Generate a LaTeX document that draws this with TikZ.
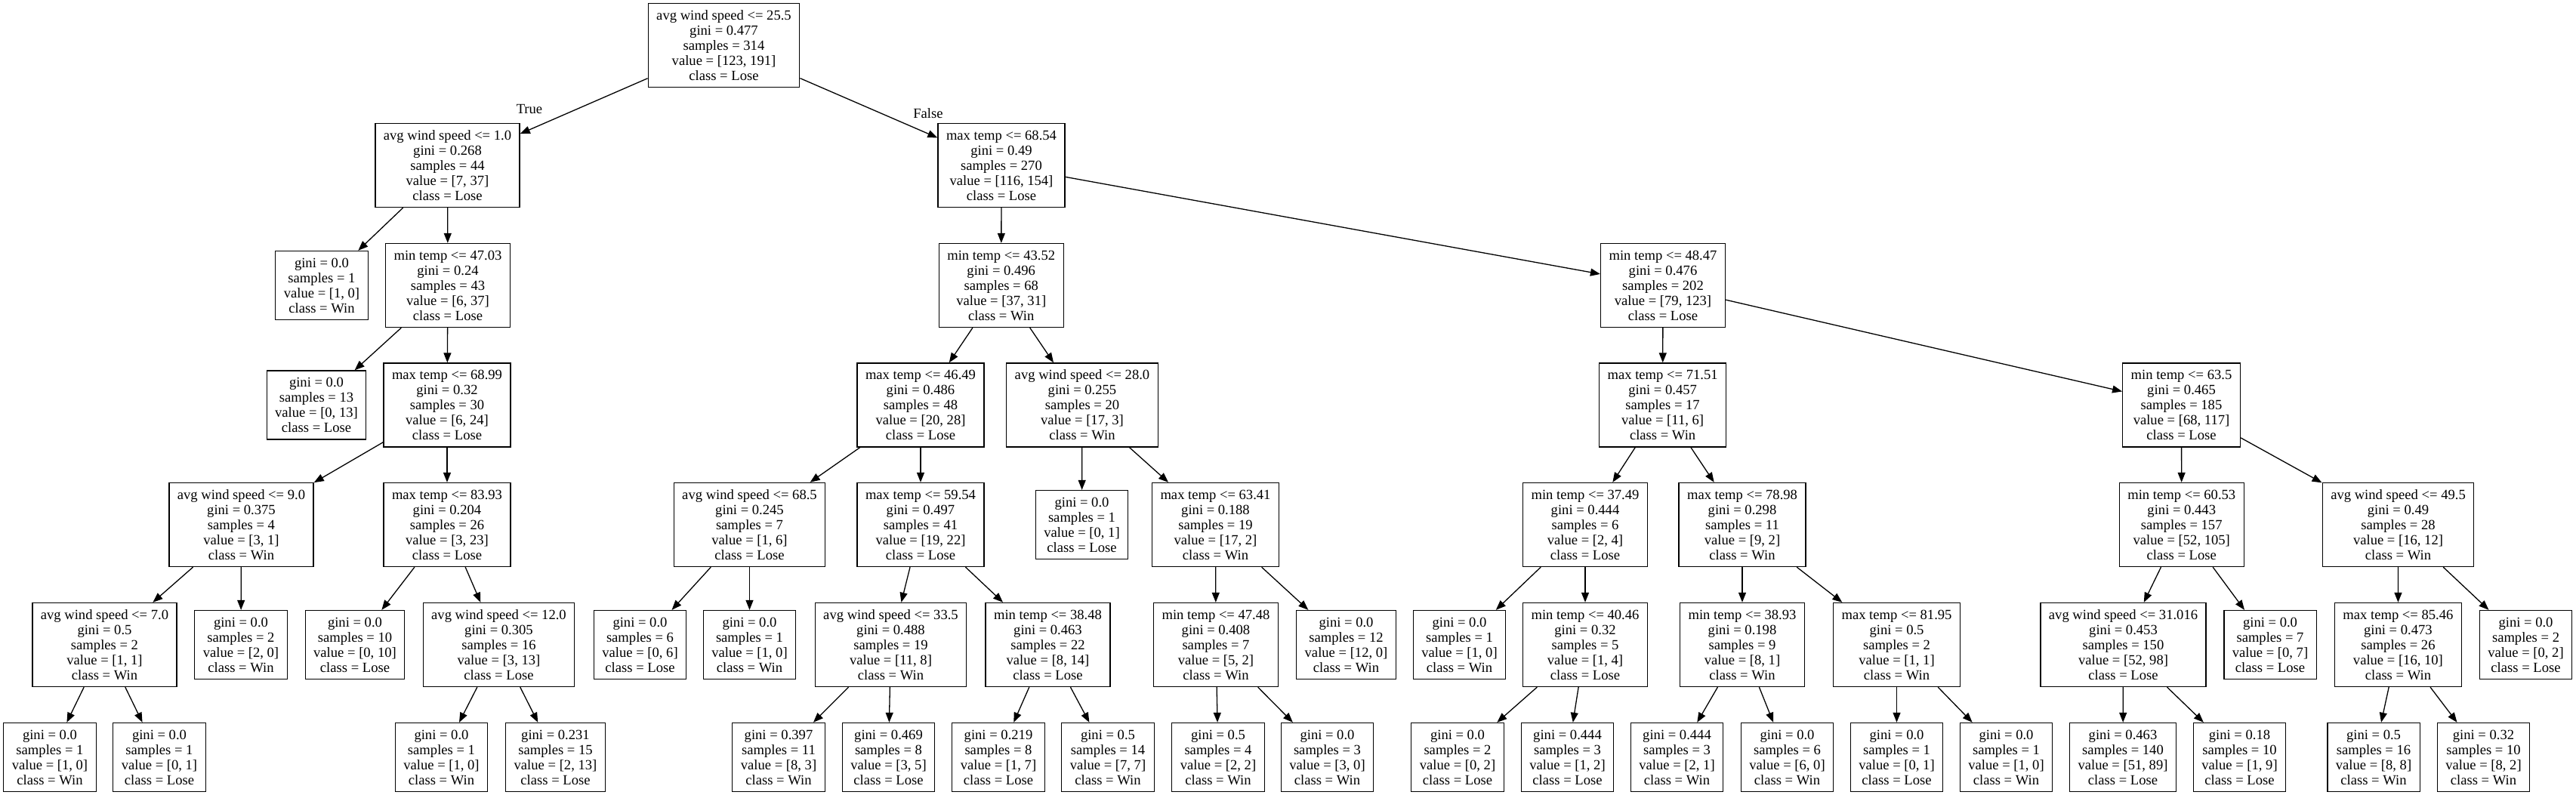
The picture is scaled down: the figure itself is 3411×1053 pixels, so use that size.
\documentclass[tikz,border=0pt]{standalone}
\usepackage{fontspec}
\setmainfont{Liberation Serif}
\usetikzlibrary{arrows.meta}
\newcommand\treefont{\fontsize{9.3}{10}\selectfont}
\newcommand\leaftxt[4]{gini = #1\\samples = #2\\value = [#3]\\class = #4}
\newcommand\splittxt[5]{#1\\gini = #2\\samples = #3\\value = [#4]\\class = #5}
\tikzset{
  x=0.5pt, y=-0.5pt,
  big/.style={draw, line width=0.65pt, align=center, font=\treefont, inner xsep=5.5pt, inner ysep=2pt, minimum height=55.5pt},
  lf/.style={draw, line width=0.65pt, align=center, font=\treefont, inner xsep=5.5pt, inner ysep=2pt, minimum height=45.5pt},
  arr/.style={-{Triangle[length=6.5pt,width=5pt]}, line width=0.65pt},
  lbl/.style={font=\treefont, inner sep=0pt}
}
\begin{document}
\begin{tikzpicture}
\useasboundingbox (0,0) rectangle (3411,1053);
% level 0
\node[big] (r) at (958.5,60) {\splittxt{avg wind speed <= 25.5}{0.477}{314}{123, 191}{Lose}};
% level 1
\node[big] (a) at (592.5,219) {\splittxt{avg wind speed <= 1.0}{0.268}{44}{7, 37}{Lose}};
\node[big] (b) at (1326,219) {\splittxt{max temp <= 68.54}{0.49}{270}{116, 154}{Lose}};
% level 2
\node[lf] (a1) at (426,378) {\leaftxt{0.0}{1}{1, 0}{Win}};
\node[big] (a2) at (593,378) {\splittxt{min temp <= 47.03}{0.24}{43}{6, 37}{Lose}};
\node[big] (c) at (1325.75,378) {\splittxt{min temp <= 43.52}{0.496}{68}{37, 31}{Win}};
\node[big] (d) at (2202,378) {\splittxt{min temp <= 48.47}{0.476}{202}{79, 123}{Lose}};
% level 3
\node[lf] (a2l) at (419,536.5) {\leaftxt{0.0}{13}{0, 13}{Lose}};
\node[big] (a3) at (592,536.5) {\splittxt{max temp <= 68.99}{0.32}{30}{6, 24}{Lose}};
\node[big] (c1) at (1219,536.5) {\splittxt{max temp <= 46.49}{0.486}{48}{20, 28}{Lose}};
\node[big] (c2) at (1433,536.5) {\splittxt{avg wind speed <= 28.0}{0.255}{20}{17, 3}{Win}};
\node[big] (d1) at (2201.6,536.5) {\splittxt{max temp <= 71.51}{0.457}{17}{11, 6}{Win}};
\node[big] (d2) at (2888.5,536.5) {\splittxt{min temp <= 63.5}{0.465}{185}{68, 117}{Lose}};
% level 4
\node[big] (a4) at (319.5,695) {\splittxt{avg wind speed <= 9.0}{0.375}{4}{3, 1}{Win}};
\node[big] (a5) at (592,695) {\splittxt{max temp <= 83.93}{0.204}{26}{3, 23}{Lose}};
\node[big] (c3) at (992.5,695) {\splittxt{avg wind speed <= 68.5}{0.245}{7}{1, 6}{Lose}};
\node[big] (c4) at (1219,695) {\splittxt{max temp <= 59.54}{0.497}{41}{19, 22}{Lose}};
\node[lf] (c2l) at (1432.5,695) {\leaftxt{0.0}{1}{0, 1}{Lose}};
\node[big] (c7) at (1609.5,695) {\splittxt{max temp <= 63.41}{0.188}{19}{17, 2}{Win}};
\node[big] (d3) at (2099,695) {\splittxt{min temp <= 37.49}{0.444}{6}{2, 4}{Lose}};
\node[big] (d4) at (2307,695) {\splittxt{max temp <= 78.98}{0.298}{11}{9, 2}{Win}};
\node[big] (d8) at (2888.75,695) {\splittxt{min temp <= 60.53}{0.443}{157}{52, 105}{Lose}};
\node[big] (d9) at (3175.5,695) {\splittxt{avg wind speed <= 49.5}{0.49}{28}{16, 12}{Win}};
% level 5
\node[big] (a6) at (138.5,854) {\splittxt{avg wind speed <= 7.0}{0.5}{2}{1, 1}{Win}};
\node[lf] (a4l) at (319,854) {\leaftxt{0.0}{2}{2, 0}{Win}};
\node[lf] (a5l) at (470,854) {\leaftxt{0.0}{10}{0, 10}{Lose}};
\node[big] (a7) at (660.5,854) {\splittxt{avg wind speed <= 12.0}{0.305}{16}{3, 13}{Lose}};
\node[lf] (c3l) at (847.5,854) {\leaftxt{0.0}{6}{0, 6}{Lose}};
\node[lf] (c3r) at (992.5,854) {\leaftxt{0.0}{1}{1, 0}{Win}};
\node[big] (c5) at (1179.5,854) {\splittxt{avg wind speed <= 33.5}{0.488}{19}{11, 8}{Win}};
\node[big] (c6) at (1387.5,854) {\splittxt{min temp <= 38.48}{0.463}{22}{8, 14}{Lose}};
\node[big] (c8) at (1610,854) {\splittxt{min temp <= 47.48}{0.408}{7}{5, 2}{Win}};
\node[lf] (c7r) at (1782.5,854) {\leaftxt{0.0}{12}{12, 0}{Win}};
\node[lf] (d3l) at (1932.5,854) {\leaftxt{0.0}{1}{1, 0}{Win}};
\node[big] (d5) at (2099,854) {\splittxt{min temp <= 40.46}{0.32}{5}{1, 4}{Lose}};
\node[big] (d6) at (2307,854) {\splittxt{min temp <= 38.93}{0.198}{9}{8, 1}{Win}};
\node[big] (d7) at (2511.5,854) {\splittxt{max temp <= 81.95}{0.5}{2}{1, 1}{Win}};
\node[big] (d10) at (2811.5,854) {\splittxt{avg wind speed <= 31.016}{0.453}{150}{52, 98}{Lose}};
\node[lf] (d8r) at (3006,854) {\leaftxt{0.0}{7}{0, 7}{Lose}};
\node[big] (d11) at (3175.4,854) {\splittxt{max temp <= 85.46}{0.473}{26}{16, 10}{Win}};
\node[lf] (d9r) at (3344.5,854) {\leaftxt{0.0}{2}{0, 2}{Lose}};
% level 6
\node[lf] (a6l) at (66,1003) {\leaftxt{0.0}{1}{1, 0}{Win}};
\node[lf] (a6r) at (211,1003) {\leaftxt{0.0}{1}{0, 1}{Lose}};
\node[lf] (a7l) at (584.5,1003) {\leaftxt{0.0}{1}{1, 0}{Win}};
\node[lf] (a7r) at (735.5,1003) {\leaftxt{0.231}{15}{2, 13}{Lose}};
\node[lf] (c5l) at (1031,1003) {\leaftxt{0.397}{11}{8, 3}{Win}};
\node[lf] (c5r) at (1176.5,1003) {\leaftxt{0.469}{8}{3, 5}{Lose}};
\node[lf] (c6l) at (1322,1003) {\leaftxt{0.219}{8}{1, 7}{Lose}};
\node[lf] (c6r) at (1467,1003) {\leaftxt{0.5}{14}{7, 7}{Win}};
\node[lf] (c8l) at (1613,1003) {\leaftxt{0.5}{4}{2, 2}{Win}};
\node[lf] (c8r) at (1757.5,1003) {\leaftxt{0.0}{3}{3, 0}{Win}};
\node[lf] (d5l) at (1930,1003) {\leaftxt{0.0}{2}{0, 2}{Lose}};
\node[lf] (d5r) at (2075.5,1003) {\leaftxt{0.444}{3}{1, 2}{Lose}};
\node[lf] (d6l) at (2220.5,1003) {\leaftxt{0.444}{3}{2, 1}{Win}};
\node[lf] (d6r) at (2366.5,1003) {\leaftxt{0.0}{6}{6, 0}{Win}};
\node[lf] (d7l) at (2511.5,1003) {\leaftxt{0.0}{1}{0, 1}{Lose}};
\node[lf] (d7r) at (2656.5,1003) {\leaftxt{0.0}{1}{1, 0}{Win}};
\node[lf] (d10l) at (2811,1003) {\leaftxt{0.463}{140}{51, 89}{Lose}};
\node[lf] (d10r) at (2965.5,1003) {\leaftxt{0.18}{10}{1, 9}{Lose}};
\node[lf] (d11l) at (3143,1003) {\leaftxt{0.5}{16}{8, 8}{Win}};
\node[lf] (d11r) at (3288.5,1003) {\leaftxt{0.32}{10}{8, 2}{Win}};
% edges
\foreach \p/\c in {r/a, r/b, a/a1, a/a2, a2/a2l, a2/a3, a3/a4, a3/a5, a4/a6, a4/a4l, a6/a6l, a6/a6r,
  a5/a5l, a5/a7, a7/a7l, a7/a7r, b/c, b/d, c/c1, c/c2, c1/c3, c1/c4, c3/c3l, c3/c3r, c4/c5, c4/c6,
  c5/c5l, c5/c5r, c6/c6l, c6/c6r, c2/c2l, c2/c7, c7/c8, c7/c7r, c8/c8l, c8/c8r, d/d1, d/d2, d1/d3, d1/d4,
  d3/d3l, d3/d5, d5/d5l, d5/d5r, d4/d6, d4/d7, d6/d6l, d6/d6r, d7/d7l, d7/d7r, d2/d8, d2/d9, d8/d10, d8/d8r,
  d10/d10l, d10/d10r, d9/d11, d9/d9r, d11/d11l, d11/d11r}
  \draw[arr] (\p) -- (\c);
\node[lbl] (ltrue) at (701,145) {True};
\node[lbl] (lfalse) at (1229,150) {False};
\end{tikzpicture}
\end{document}
